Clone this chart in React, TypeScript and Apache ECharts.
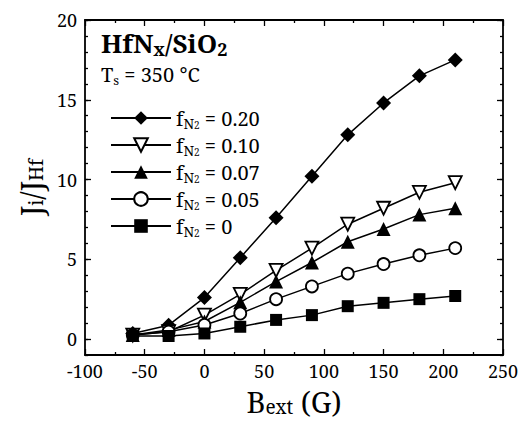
import React, { useEffect, useRef } from "react";
import * as echarts from "echarts";

const xValues = [-60, -30, 0, 30, 60, 90, 120, 150, 180, 210];
const f020 = [0.35, 0.87, 2.6, 5.1, 7.6, 10.2, 12.8, 14.8, 16.5, 17.5];
const f010 = [0.25, 0.46, 1.5, 2.8, 4.3, 5.7, 7.2, 8.2, 9.2, 9.8];
const f007 = [0.25, 0.56, 1.1, 2.3, 3.6, 4.8, 6.1, 6.9, 7.8, 8.2];
const f005 = [0.25, 0.46, 0.88, 1.6, 2.5, 3.3, 4.1, 4.7, 5.25, 5.7];
const f000 = [0.19, 0.19, 0.35, 0.77, 1.2, 1.5, 2.06, 2.27, 2.5, 2.7];

const seriesNames = ["0.20", "0.10", "0.07", "0.05", "0"];
const yMajorTicks = [0, 5, 10, 15, 20];
const yMinorTicks = [-1, 0, 1, 2, 3, 4, 5, 6, 7, 8, 9, 10, 11, 12, 13, 14, 15, 16, 17, 18, 19, 20];

const FONT = "'Noto Serif', 'DejaVu Serif'";

export default function App() {
  const ref = useRef<HTMLDivElement>(null);
  useEffect(() => {
    if (!ref.current) return;
    const chart = echarts.init(ref.current, null, { renderer: "svg" });
    const pair = (ys: number[]) => xValues.map((x, i) => [x, ys[i]]);
    const lineStyle = { color: "#000", width: 1.5 };
    const downTri = "path://M0,0 L12,0 L6,11 Z";
    const mk = (name: string, ys: number[], symbol: string, size: number, fill: string) => ({
      type: "line",
      name,
      data: pair(ys),
      symbol,
      symbolSize: size,
      lineStyle,
      itemStyle: { color: fill, borderColor: "#000", borderWidth: fill === "#fff" ? 1.8 : 0 },
      xAxisIndex: 0,
      yAxisIndex: 0,
      z: 3,
    });
    const axisLine = { show: true, onZero: false, lineStyle: { color: "#000", width: 1.8 } };
    const nameRich = {
      m: { fontFamily: FONT, fontSize: 29, color: "#000", lineHeight: 30 },
      s: { fontFamily: FONT, fontSize: 19, color: "#000", lineHeight: 12, verticalAlign: "bottom" },
    };
    const baseY = (position: string, labels: boolean, ticks: number[], len: number, line: boolean) => ({
      type: "value",
      position,
      min: -1,
      max: 20,
      axisLine: line ? axisLine : { show: false, onZero: false },
      axisTick: { show: true, inside: true, length: len, customValues: ticks, lineStyle: { color: "#000", width: 1.3 } },
      axisLabel: labels
        ? { show: true, customValues: yMajorTicks, color: "#000", fontFamily: FONT, fontSize: 18, margin: 8 }
        : { show: false },
      splitLine: { show: false },
    });
    const baseX = (position: string, labels: boolean) => ({
      type: "value",
      position,
      min: -100,
      max: 250,
      interval: 50,
      axisLine,
      axisTick: { show: true, inside: true, length: 6, lineStyle: { color: "#000", width: 1.3 } },
      minorTick: { show: true, splitNumber: 2, length: 3, lineStyle: { color: "#000", width: 1.3 } },
      axisLabel: labels
        ? { show: true, color: "#000", fontFamily: FONT, fontSize: 18, margin: 5, lineHeight: 22 }
        : { show: false },
      splitLine: { show: false },
    });
    chart.setOption({
      animation: false,
      backgroundColor: "#fff",
      grid: { left: 85, right: 23, top: 20, bottom: 72 },
      xAxis: [
        {
          ...baseX("bottom", true),
          name: "{m|B}{s|ext}{m| (G)}",
          nameLocation: "middle",
          nameGap: 30,
          nameTextStyle: { color: "#000", fontFamily: FONT, rich: nameRich },
        },
        baseX("top", false),
      ],
      yAxis: [
        {
          ...baseY("left", true, yMajorTicks, 6, true),
          name: "{m|J}{s|i}{m|/J}{s|Hf}",
          nameLocation: "middle",
          nameGap: 40,
          nameRotate: 90,
          nameTextStyle: { color: "#000", fontFamily: FONT, rich: nameRich },
        },
        baseY("right", false, yMajorTicks, 6, true),
        baseY("left", false, yMinorTicks, 3, false),
        baseY("right", false, yMinorTicks, 3, false),
      ],
      legend: {
        orient: "vertical",
        left: 105,
        top: 103,
        itemWidth: 60,
        itemHeight: 17,
        itemGap: 5,
        data: seriesNames,
        formatter: (name: string) => `{f|f}{n|N}{t|2}{v| = ${name}}`,
        textStyle: {
          color: "#000",
          fontFamily: FONT,
          rich: {
            f: { fontFamily: FONT, fontSize: 20, color: "#000", lineHeight: 24 },
            n: { fontFamily: FONT, fontSize: 14, color: "#000", lineHeight: 13, verticalAlign: "bottom" },
            t: { fontFamily: FONT, fontSize: 10, color: "#000", lineHeight: 4, verticalAlign: "bottom" },
            v: { fontFamily: FONT, fontSize: 20, color: "#000", lineHeight: 24 },
          },
        },
      },
      graphic: [
        {
          type: "text",
          left: 101,
          top: 30,
          style: {
            text: "{b|HfN}{s|x}{b|/SiO}{s|2}",
            rich: {
              b: { fontFamily: FONT, fontSize: 26, fontWeight: "bold", fill: "#000", lineHeight: 30 },
              s: { fontFamily: FONT, fontSize: 18, fontWeight: "bold", fill: "#000", lineHeight: 15, verticalAlign: "bottom" },
            },
          },
        },
        {
          type: "text",
          left: 101,
          top: 64,
          style: {
            text: "{m|T}{s|s}{m| = 350 °C}",
            rich: {
              m: { fontFamily: FONT, fontSize: 20, fill: "#000", lineHeight: 24 },
              s: { fontFamily: FONT, fontSize: 13, fill: "#000", lineHeight: 13, verticalAlign: "bottom" },
            },
          },
        },
      ],
      series: [
        mk("0.20", f020, "diamond", 15, "#000"),
        mk("0.10", f010, downTri, 13, "#fff"),
        mk("0.07", f007, "triangle", 14, "#000"),
        mk("0.05", f005, "circle", 12, "#fff"),
        mk("0", f000, "rect", 12, "#000"),
      ],
    });
    return () => chart.dispose();
  }, []);
  return <div ref={ref} style={{ width: 526, height: 427, position: "absolute", left: 0, top: 0 }} />;
}
